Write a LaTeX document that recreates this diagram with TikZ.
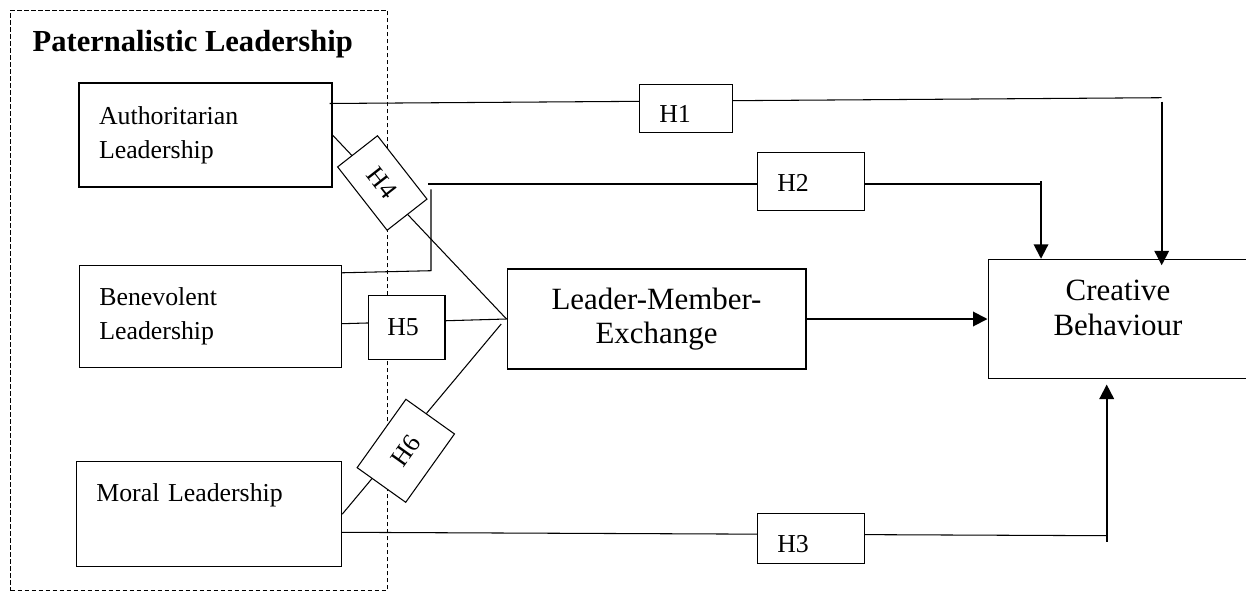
\documentclass[tikz,border=0pt]{standalone}
\usepackage{fontspec}
\setmainfont{Liberation Serif}
\usetikzlibrary{arrows.meta}

\newcommand{\boxfont}{\fontsize{14.7}{19.3}\selectfont}
\newcommand{\bigfont}{\fontsize{17.6}{19.8}\selectfont}

\tikzset{
  box/.style={draw, fill=white, line width=0.6pt},
  leftbox/.style={box, font=\boxfont, align=left, inner xsep=0.4cm},
  hyp/.style={box, font=\boxfont, align=left, inner ysep=0pt},
  hyprot/.style={box, font=\boxfont, inner sep=0pt},
  link/.style={line width=0.6pt},
  arr/.style={line width=1.1pt, -{Triangle[length=0.29cm, width=0.29cm]}},
}

\begin{document}
\begin{tikzpicture}[x=0.02cm, y=-0.02cm]
    \useasboundingbox (0,0) rectangle (1246,592);

    % cadre du leadership paternaliste
    \node[draw, line width=0.5pt, dash pattern=on 0.09cm off 0.05cm, minimum width=7.532cm, minimum height=11.614cm, inner sep=0pt] (pl) at (199,300.35) {};
    \node[anchor=base west, font=\bfseries\fontsize{17.4}{20}\selectfont, inner sep=0pt] (pltitle) at (32.3,51.7) {Paternalistic Leadership};

    % styles de leadership
    \node[leftbox, text width=4.26cm, minimum height=2.08cm] (auth) at (205.5,135) {Authoritarian\\Leadership};
    \node[leftbox, text width=4.448cm, minimum height=2.04cm] (bene) at (210.5,316.7) {Benevolent\\Leadership};
    \node[leftbox, text width=4.508cm, minimum height=2.1cm] (moral) at (209,514.2) {Moral Leadership\\\strut};

    % mediateur et resultat
    \node[box, font=\bigfont, align=center, minimum width=5.98cm, minimum height=2cm] (lmx) at (656.5,319) {Leader-Member-\\Exchange};
    \node[box, minimum width=5.2cm, minimum height=2.388cm, label={[font=\bigfont, align=center, anchor=north, yshift=-0.303cm]north:Creative\\Behaviour}] (cb) at (1118,319) {};

    % coins
    \coordinate (c1) at (1161.7,97.7);
    \coordinate (b2) at (428,184);
    \coordinate (c2) at (1041,184);
    \coordinate (j1) at (431,270.7);
    \coordinate (j2) at (431,189.3);
    \coordinate (c3) at (1106.7,535.7);

    % liens (les hypotheses passent par-dessus)
    \draw[link] ([xshift=-0.06cm, yshift=-0.42cm]auth.north east) -- (c1);
    \draw[link] (b2) -- (c2);
    \draw[link] ([yshift=-0.152cm]bene.north east) -- (j1) -- (j2);
    \draw[link] ([yshift=-0.362cm]moral.east) -- (c3);
    \draw[link] (auth.east) -- (lmx.west);
    \draw[link] ([yshift=-0.14cm]bene.east) -- (lmx.west);
    \draw[link] (moral.east) -- ([xshift=-0.106cm, yshift=-0.1cm]lmx.west);

    % hypotheses
    \node[hyp, text width=1.068cm, inner xsep=0.392cm, text height=0.774cm, text depth=0.192cm] (h1) at (686,108.2) {H1};
    \node[hyp, text width=1.34cm, inner xsep=0.4cm, text height=0.766cm, text depth=0.394cm] (h2) at (810.8,181.7) {H2};
    \node[hyp, text width=1.34cm, inner xsep=0.4cm, text height=0.78cm, text depth=0.22cm] (h3) at (810.8,538.7) {H3};
    \node[hyprot, minimum width=1.608cm, minimum height=1.012cm, rotate=-52] (h4) at (382.3,183) {H4};
    \node[hyp, text width=0.774cm, inner xsep=0.38cm, text height=0.786cm, text depth=0.486cm] (h5) at (406.65,327.5) {H5};
    \node[hyprot, minimum width=1.68cm, minimum height=1.194cm, rotate=54.5] (h6) at (405.8,450.8) {H6};

    % fleches
    \draw[arr, shorten >=-0.13cm] ([yshift=-0.08cm]c1) -- (c1 |- cb.north);
    \draw[arr] ([yshift=0.06cm]c2) -- (c2 |- cb.north);
    \draw[arr, shorten >=0.106cm] ([yshift=-0.12cm]c3) -- (c3 |- cb.south);
    \draw[arr] (lmx.east) -- (cb.west);

\end{tikzpicture}
\end{document}
